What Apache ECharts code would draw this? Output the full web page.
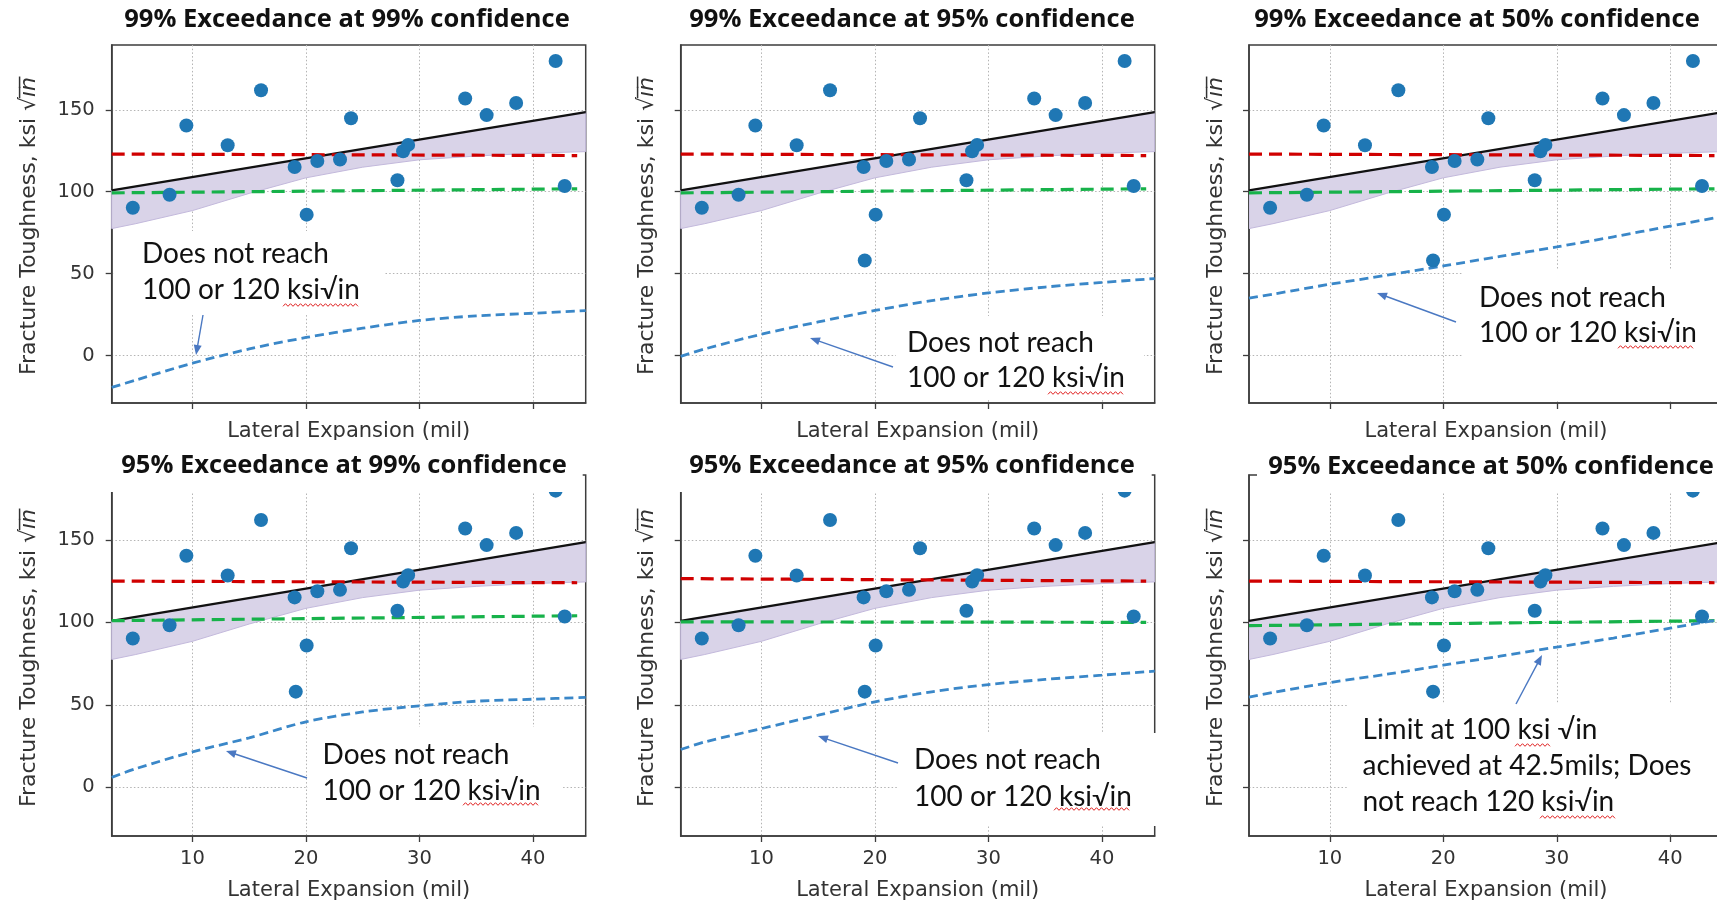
<!DOCTYPE html>
<html>
<head>
<meta charset="utf-8">
<script src="https://cdn.jsdelivr.net/npm/echarts@6/dist/echarts.min.js"></script>
<style>
body { margin: 0; padding: 0; background: #fff; }
#chart { width: 1717px; height: 902px; }
</style>
</head>
<body>
<div id="chart"></div>
<script>
// ---- values ----
// test points (same in every panel)
const ptX = [4.74, 7.98, 9.46, 13.1, 16.04, 19.0, 19.1, 20.06, 21.0, 23.0, 23.97, 28.06, 28.56, 29.0, 34.03, 35.92, 38.52, 42.0, 42.8];
const ptY = [90.2, 98.2, 140.4, 128.4, 162.0, 115.1, 58.0, 86.0, 118.8, 119.7, 144.9, 107.0, 124.7, 128.6, 156.9, 146.8, 154.2, 179.8, 103.5];

// regression line (black)
const fitX = [2.88, 44.65];
const fitY = [100.9, 148.6];

// shaded band under the regression line
const bandX = [2.88, 5, 10, 15, 20, 25, 30, 35, 40, 44.65];
const bandHigh = [100.9, 103.3, 109.0, 114.7, 120.4, 126.1, 131.8, 137.5, 143.3, 148.6];
const bandLow = [77.5, 80.5, 88.5, 99.0, 108.5, 115.0, 119.5, 121.8, 123.5, 124.5];

// red (120) and green (100) dashed lines, one pair per panel
const refX = [2.88, 43.9];
const redY = [[123.0, 122.1], [123.0, 122.1], [123.0, 122.1], [125.0, 124.0], [126.5, 125.0], [125.0, 124.0]];
const greenY = [[99.3, 101.8], [99.3, 101.8], [99.3, 101.8], [101.0, 104.0], [100.3, 100.0], [98.0, 101.0]];

// lower bound (blue dashed), one curve per panel
const lowX = [2.88, 5, 10, 15, 20, 25, 30, 35, 40, 44.65];
const lowY = [
  [-19.5, -15.0, -4.7, 4.0, 11.0, 16.7, 21.4, 24.2, 25.8, 27.4],
  [-0.5, 4.0, 13.0, 20.5, 27.5, 33.5, 38.2, 41.8, 44.6, 47.0],
  [35.0, 37.5, 43.5, 49.0, 54.7, 60.5, 66.3, 72.5, 79.0, 85.0],
  [6.0, 11.3, 21.5, 30.0, 39.7, 45.7, 49.4, 52.2, 53.4, 54.5],
  [22.9, 27.5, 35.6, 43.7, 51.8, 57.9, 62.3, 65.4, 68.0, 70.4],
  [54.6, 57.5, 63.5, 68.5, 74.0, 79.5, 85.0, 90.5, 96.5, 102.0]
];

const xTicks = [10, 20, 30, 40];
const yTicks = [0, 50, 100, 150];

const titles = [
  '99% Exceedance at 99% confidence', '99% Exceedance at 95% confidence', '99% Exceedance at 50% confidence',
  '95% Exceedance at 99% confidence', '95% Exceedance at 95% confidence', '95% Exceedance at 50% confidence'
];
const noteLines = [
  ['Does not reach', '100 or 120 ksi√in'],
  ['Does not reach', '100 or 120 ksi√in'],
  ['Does not reach', '100 or 120 ksi√in'],
  ['Does not reach', '100 or 120 ksi√in'],
  ['Does not reach', '100 or 120 ksi√in'],
  ['Limit at 100 ksi √in', 'achieved at 42.5mils; Does', 'not reach 120 ksi√in']
];

// ---- layout ----
const lefts = [111.7, 680.7, 1249];
const plotW = 474;
const rowTop = [45, 475];
const rowH = [358, 361];
const rowMin = [-29, -29.5];
const rowMax = [189.6, 189.3];
const titleX = [347, 912, 1477, 344, 912, 1491];
const titleY = [19.5, 19.5, 19.5, 466, 466, 467];
const ylabX = [29.5, 647, 1216, 29.5, 647, 1216];
const ylabY = [226, 226, 226, 658, 658, 658];
// note boxes: text left, first line centre, line step, white box [x,y,w,h], arrow [x1,y1,x2,y2], wavy underlines [x1,x2,y]
const noteLayout = [
  {x: 142, y: 254, step: 36, box: [114, 231, 271, 82], arrow: [203, 315, 196, 355], wavy: [[283, 360, 305]]},
  {x: 907, y: 343, step: 35, box: [896, 316, 248, 84], arrow: [893, 367, 810, 338], wavy: [[1048, 1124, 393]]},
  {x: 1479, y: 298, step: 35, box: [1462, 270, 260, 131], arrow: [1456, 322, 1377, 293], wavy: [[1618, 1695, 347]]},
  {x: 322.6, y: 755, step: 36, box: [308, 727, 254, 106], arrow: [307, 778, 226, 751], wavy: [[463, 539, 804]]},
  {x: 914, y: 760, step: 36.5, box: [898, 733, 262, 93], arrow: [898, 763, 818, 736], wavy: [[1054, 1130, 809]]},
  {x: 1362.5, y: 730, step: 36, box: [1348, 703, 372, 130], arrow: [1516, 704, 1542, 655], wavy: [[1515, 1550, 745], [1540, 1617, 817]]}
];

const axisColor = '#3d3d3d';

const grid = [], xAxis = [], yAxis = [], series = [], graphic = [];

for (let i = 0; i < 6; i++) {
  const row = i < 3 ? 0 : 1;
  const col = i % 3;
  grid.push({
    left: lefts[col], top: rowTop[row], width: plotW, height: rowH[row],
    show: true, borderColor: axisColor, borderWidth: 1.5, backgroundColor: 'transparent',
    containLabel: false, outerBoundsMode: 'none'
  });
  xAxis.push({
    type: 'value', gridIndex: i, min: 2.88, max: 44.65,
    axisLine: {show: true, onZero: false, lineStyle: {color: axisColor, width: 1.5}},
    axisTick: {show: true, inside: false, length: 6, customValues: xTicks, lineStyle: {color: axisColor, width: 1.3}},
    axisLabel: {show: row === 1, customValues: xTicks, margin: 13, fontSize: 19.5, color: '#333', fontFamily: 'DejaVu Sans'},
    splitLine: {show: true, lineStyle: {color: '#b4b4b4', width: 1, type: [1.5, 2.2]}},
    name: 'Lateral Expansion (mil)', nameLocation: 'middle', nameGap: row === 0 ? 18 : 44,
    nameTextStyle: {fontSize: 21, color: '#333', fontFamily: 'DejaVu Sans'}
  });
  yAxis.push({
    type: 'value', gridIndex: i, min: rowMin[row], max: rowMax[row],
    axisLine: {show: true, onZero: false, lineStyle: {color: axisColor, width: 1.5}},
    axisTick: {show: true, inside: false, length: 6, customValues: yTicks, lineStyle: {color: axisColor, width: 1.3}},
    axisLabel: {show: col === 0, customValues: yTicks, margin: 17, fontSize: 19.5, color: '#333', fontFamily: 'DejaVu Sans'},
    splitLine: {show: true, lineStyle: {color: '#b4b4b4', width: 1, type: [1.5, 2.2]}}
  });

  // band
  series.push({
    type: 'custom', xAxisIndex: i, yAxisIndex: i, silent: true, z: 1, clip: true,
    data: [0],
    renderItem: function (params, api) {
      const pts = [];
      for (let k = 0; k < bandX.length; k++) pts.push(api.coord([bandX[k], bandHigh[k]]));
      for (let k = bandX.length - 1; k >= 0; k--) pts.push(api.coord([bandX[k], bandLow[k]]));
      return {type: 'polygon', shape: {points: pts}, style: {fill: '#d9d3e8', stroke: '#c3b9dc', lineWidth: 1}};
    }
  });
  series.push({
    type: 'line', xAxisIndex: i, yAxisIndex: i, showSymbol: false, silent: true, z: 3,
    data: fitX.map((x, k) => [x, fitY[k]]),
    lineStyle: {color: '#111', width: 2.3}
  });
  series.push({
    type: 'line', xAxisIndex: i, yAxisIndex: i, showSymbol: false, silent: true, z: 3,
    data: refX.map((x, k) => [x, redY[i][k]]),
    lineStyle: {color: '#d00000', width: 3.2, type: [13, 7]}
  });
  series.push({
    type: 'line', xAxisIndex: i, yAxisIndex: i, showSymbol: false, silent: true, z: 3,
    data: refX.map((x, k) => [x, greenY[i][k]]),
    lineStyle: {color: '#17b24a', width: 3.2, type: [13, 7]}
  });
  series.push({
    type: 'line', xAxisIndex: i, yAxisIndex: i, showSymbol: false, silent: true, z: 3, smooth: 0.3,
    data: lowX.map((x, k) => [x, lowY[i][k]]),
    lineStyle: {color: '#3a87c8', width: 2.8, type: [9, 5]}
  });
  series.push({
    type: 'scatter', xAxisIndex: i, yAxisIndex: i, silent: true, z: 4,
    symbolSize: 14,
    data: ptX.map((x, k) => [x, ptY[k]]),
    itemStyle: {color: '#1f77b4', opacity: 1}
  });

  // title (bottom-row titles sit on a white strip over the top of the plot)
  if (row === 1) {
    graphic.push({
      type: 'rect', z: 100, silent: true,
      shape: {x: col === 2 ? lefts[col] + 8 : lefts[col] - 12, y: 440, width: col === 2 ? 480 : plotW + 9, height: 52},
      style: {fill: '#fff'}
    });
  }
  graphic.push({
    type: 'text', z: 101, x: titleX[i], y: titleY[i], silent: true,
    style: {text: titles[i], fontFamily: 'Open Sans', fontWeight: 'bold', fontSize: 25.5, fill: '#111', align: 'center', verticalAlign: 'middle'}
  });
  // y axis title
  graphic.push({
    type: 'text', z: 101, x: ylabX[i], y: ylabY[i], rotation: Math.PI / 2, silent: true,
    style: {
      text: '{n|Fracture Toughness, ksi }{n|√}{it|i\u0305n\u0305}',
      align: 'center', verticalAlign: 'middle',
      rich: {
        n: {fontFamily: 'DejaVu Sans', fontSize: 22, fill: '#333'},
        it: {fontFamily: 'DejaVu Sans', fontSize: 22, fontStyle: 'italic', fill: '#333'}
      }
    }
  });

  // annotation
  const L = noteLayout[i];
  graphic.push({type: 'rect', z: 100, silent: true, shape: {x: L.box[0], y: L.box[1], width: L.box[2], height: L.box[3]}, style: {fill: '#fff'}});
  noteLines[i].forEach((t, k) => {
    graphic.push({
      type: 'text', z: 101, x: L.x, y: L.y + k * L.step, silent: true,
      style: {text: t, fontFamily: 'Lato', fontSize: 28, fill: '#111', align: 'left', verticalAlign: 'middle'}
    });
  });
  const [ax1, ay1, ax2, ay2] = L.arrow;
  const dx = ax2 - ax1, dy = ay2 - ay1, len = Math.sqrt(dx * dx + dy * dy);
  const ux = dx / len, uy = dy / len, hl = 10, hw = 4;
  graphic.push({type: 'line', z: 102, silent: true, shape: {x1: ax1, y1: ay1, x2: ax2 - ux * hl * 0.8, y2: ay2 - uy * hl * 0.8}, style: {stroke: '#4a78c2', lineWidth: 1.4}});
  graphic.push({
    type: 'polygon', z: 102, silent: true,
    shape: {points: [[ax2, ay2], [ax2 - ux * hl - uy * hw, ay2 - uy * hl + ux * hw], [ax2 - ux * hl + uy * hw, ay2 - uy * hl - ux * hw]]},
    style: {fill: '#4a78c2'}
  });
  L.wavy.forEach(w => {
    const pts = [];
    for (let x = w[0], s = 0; x <= w[1]; x += 2.5, s++) pts.push([x, w[2] + (s % 2 ? -1.3 : 1.3)]);
    graphic.push({type: 'polyline', z: 102, silent: true, shape: {points: pts}, style: {stroke: '#e02020', lineWidth: 1, fill: null}});
  });
}

const chart = echarts.init(document.getElementById('chart'));
chart.setOption({
  animation: false,
  backgroundColor: '#fff',
  grid: grid,
  xAxis: xAxis,
  yAxis: yAxis,
  series: series,
  graphic: graphic
});
</script>
</body>
</html>
